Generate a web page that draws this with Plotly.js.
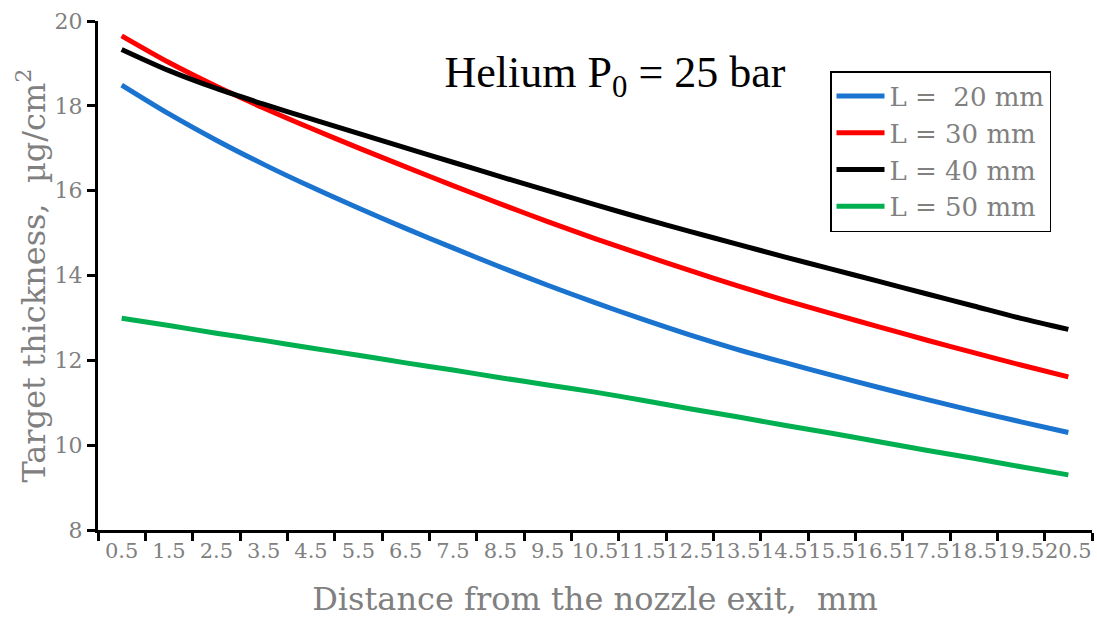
<!DOCTYPE html>
<html>
<head>
<meta charset="utf-8">
<script src="https://cdn.plot.ly/plotly-3.0.1.min.js"></script>
<style>
  html, body { margin: 0; padding: 0; background: #fff; }
  #chart { width: 1097px; height: 621px; }
</style>
</head>
<body>
<div id="chart"></div>
<script>
// Distance from the nozzle exit, mm (category labels)
const distance = ["0.5","1.5","2.5","3.5","4.5","5.5","6.5","7.5","8.5","9.5","10.5",
                  "11.5","12.5","13.5","14.5","15.5","16.5","17.5","18.5","19.5","20.5"];

// Target thickness, µg/cm²
const L20 = [18.49, 17.81, 17.19, 16.62, 16.09, 15.59, 15.11, 14.65, 14.20, 13.77, 13.36,
             12.97, 12.60, 12.26, 11.95, 11.65, 11.36, 11.08, 10.81, 10.55, 10.30];
const L30 = [19.65, 19.02, 18.46, 17.95, 17.47, 17.01, 16.56, 16.12, 15.69, 15.27, 14.87,
             14.49, 14.12, 13.76, 13.42, 13.10, 12.79, 12.48, 12.18, 11.89, 11.61];
const L40 = [19.33, 18.83, 18.41, 18.04, 17.69, 17.35, 17.01, 16.67, 16.33, 16.00, 15.67,
             15.35, 15.04, 14.74, 14.44, 14.15, 13.86, 13.57, 13.28, 12.99, 12.73];
const L50 = [12.99, 12.82, 12.64, 12.47, 12.29, 12.12, 11.94, 11.77, 11.59, 11.42, 11.25,
             11.06, 10.86, 10.67, 10.47, 10.28, 10.08, 9.88, 9.69, 9.49, 9.30];

const seriesNames = ["L =  20 mm", "L = 30 mm", "L = 40 mm", "L = 50 mm"];
const seriesValues = [L20, L30, L40, L50];
const seriesColors = ["#1A73CE", "#FF0000", "#000000", "#00B050"];

const traces = seriesValues.map((vals, k) => ({
  type: "scatter",
  mode: "lines",
  x: distance,
  y: vals,
  name: seriesNames[k],
  line: { color: seriesColors[k], width: 5, shape: "spline", smoothing: 0.8 },
  hoverinfo: "x+y+name"
}));

const gray = "#808080";
const serif = "DejaVu Serif, serif";

const layout = {
  width: 1097,
  height: 621,
  paper_bgcolor: "#ffffff",
  plot_bgcolor: "#ffffff",
  margin: { l: 98, r: 5, t: 21, b: 91, pad: 0 },
  showlegend: true,
  title: {
    text: "Helium P<sub>0</sub> = 25 bar",
    font: { family: "Liberation Serif, serif", size: 44, color: "#000000" },
    x: 615 / 1097, xanchor: "center",
    y: 1 - 72 / 621, yanchor: "middle"
  },
  xaxis: {
    type: "category",
    range: [-0.5, 20.5],
    tickmode: "linear", tick0: 0, dtick: 1,
    tickson: "boundaries",
    ticks: "outside", ticklen: 8, tickwidth: 3, tickcolor: "#000000",
    showline: true, linewidth: 3, linecolor: "#000000",
    showgrid: false, zeroline: false,
    tickangle: 0,
    automargin: false,
    tickfont: { family: serif, size: 21, color: gray },
    title: {
      text: "Distance from the nozzle exit,  mm",
      font: { family: serif, size: 32, color: gray },
      standoff: 26
    }
  },
  yaxis: {
    range: [8, 20],
    tickmode: "linear", tick0: 8, dtick: 2,
    ticks: "outside", ticklen: 8, tickwidth: 3, tickcolor: "#000000",
    showline: true, linewidth: 3, linecolor: "#000000",
    showgrid: false, zeroline: false,
    automargin: false,
    tickfont: { family: serif, size: 22, color: gray },
    title: {
      text: "Target thickness,  µg/cm<sup>2</sup>",
      font: { family: serif, size: 32, color: gray },
      standoff: 0
    }
  },
  legend: {
    x: (830 - 98) / 994, xanchor: "left",
    y: (530 - 71) / 509, yanchor: "top",
    bgcolor: "#ffffff",
    bordercolor: "#000000", borderwidth: 1.5,
    font: { family: serif, size: 26, color: gray },
    itemwidth: 48,
    tracegroupgap: 0
  }
};

Plotly.newPlot("chart", traces, layout, { displayModeBar: false, staticPlot: true });
</script>
</body>
</html>
